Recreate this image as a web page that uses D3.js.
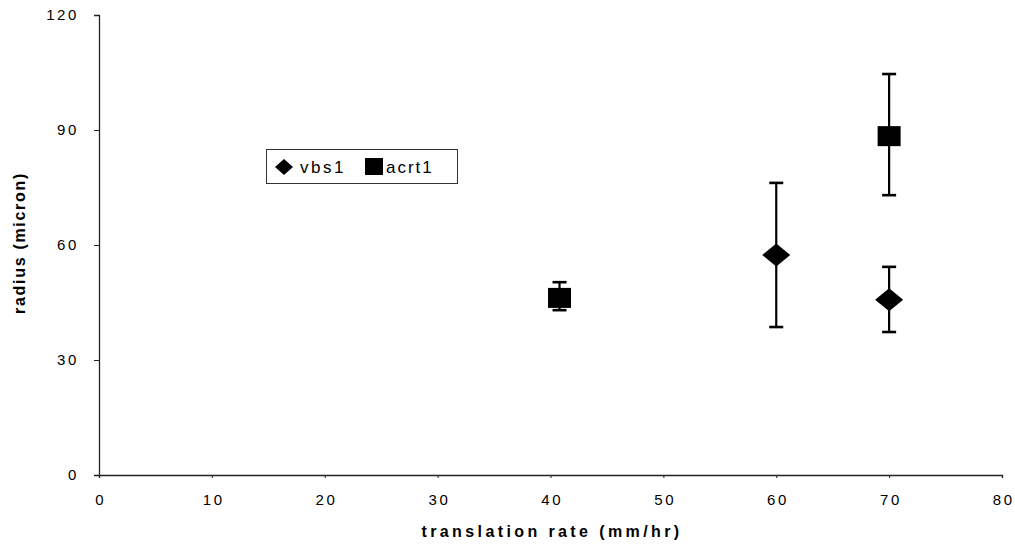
<!DOCTYPE html>
<html><head><meta charset="utf-8">
<script src="https://cdn.jsdelivr.net/npm/d3@7"></script>
<style>body{margin:0;background:#fff}svg{display:block}</style>
</head><body>
<script>
const xTicks = [0,10,20,30,40,50,60,70,80];
const yTicks = [0,30,60,90,120];
const vbs1X = [60, 70];
const vbs1Y = [57.4, 45.7];
const vbs1Lo = [38.6, 37.3];
const vbs1Hi = [76.2, 54.3];
const acrt1X = [40.8, 70];
const acrt1Y = [46.2, 88.4];
const acrt1Lo = [43.0, 73.0];
const acrt1Hi = [50.3, 104.6];
const seriesNames = ["vbs1", "acrt1"];

const W = 1015, H = 546;
const svg = d3.select("body").append("svg").attr("width", W).attr("height", H);
const x = d3.scaleLinear().domain([0,80]).range([99,1002]);
const y = d3.scaleLinear().domain([0,120]).range([475,15]);
const font = "Liberation Sans, Arial, sans-serif";

const xa = svg.append("g").attr("transform","translate(0,475)")
  .call(d3.axisBottom(x).tickValues(xTicks).tickSize(3).tickPadding(16));
const ya = svg.append("g").attr("transform","translate(99,0)")
  .call(d3.axisLeft(y).tickValues(yTicks).tickSize(5).tickPadding(15));
[xa,ya].forEach(a=>{
  a.select(".domain").attr("stroke","#222").attr("stroke-width",1.3);
  a.selectAll(".tick line").attr("stroke","#222");
  a.selectAll("text").attr("font-family",font).attr("font-size",15)
   .attr("letter-spacing","2.6px").attr("fill","#000");
});
xa.selectAll("text").attr("dx","1.3px");

svg.append("text").attr("x",552).attr("y",537).attr("text-anchor","middle")
  .attr("font-family",font).attr("font-size",16).attr("font-weight","bold")
  .attr("letter-spacing","3.4px").text("translation rate (mm/hr)");
svg.append("text").attr("transform","translate(25,243) rotate(-90)").attr("text-anchor","middle")
  .attr("font-family",font).attr("font-size",16).attr("font-weight","bold")
  .attr("letter-spacing","1.7px").text("radius (micron)");

function errBars(xs, lo, hi){
  const g = svg.append("g").attr("stroke","#000").attr("stroke-width",2.2);
  xs.forEach((v,i)=>{
    g.append("line").attr("x1",x(v)).attr("x2",x(v)).attr("y1",y(lo[i])).attr("y2",y(hi[i]));
    [lo[i],hi[i]].forEach(e=>g.append("line").attr("x1",x(v)-7).attr("x2",x(v)+7)
      .attr("y1",y(e)).attr("y2",y(e)).attr("stroke-width",2.6));
  });
}
errBars(vbs1X, vbs1Lo, vbs1Hi);
errBars(acrt1X, acrt1Lo, acrt1Hi);

const diamond = (cx,cy,w,h)=>`M${cx},${cy-h/2}L${cx+w/2},${cy}L${cx},${cy+h/2}L${cx-w/2},${cy}Z`;
svg.append("g").selectAll("path").data(vbs1X).join("path")
  .attr("d",(d,i)=>diamond(x(d),y(vbs1Y[i]),28,23)).attr("fill","#000");
svg.append("g").selectAll("rect").data(acrt1X).join("rect")
  .attr("x",d=>x(d)-11.5).attr("y",(d,i)=>y(acrt1Y[i])-10).attr("width",23).attr("height",20).attr("fill","#000");

// legend
const lg = svg.append("g");
lg.append("rect").attr("x",266.5).attr("y",149.5).attr("width",191).attr("height",34)
  .attr("fill","#fff").attr("stroke","#333").attr("stroke-width",1);
lg.append("path").attr("d",diamond(284,167,18,16)).attr("fill","#000");
lg.append("text").attr("x",300).attr("y",173).attr("font-family",font).attr("font-size",17)
  .attr("letter-spacing","2.5px").text(seriesNames[0]);
lg.append("rect").attr("x",365).attr("y",158).attr("width",18).attr("height",17).attr("fill","#000");
lg.append("text").attr("x",386).attr("y",173).attr("font-family",font).attr("font-size",17)
  .attr("letter-spacing","2px").text(seriesNames[1]);
</script>
</body></html>
